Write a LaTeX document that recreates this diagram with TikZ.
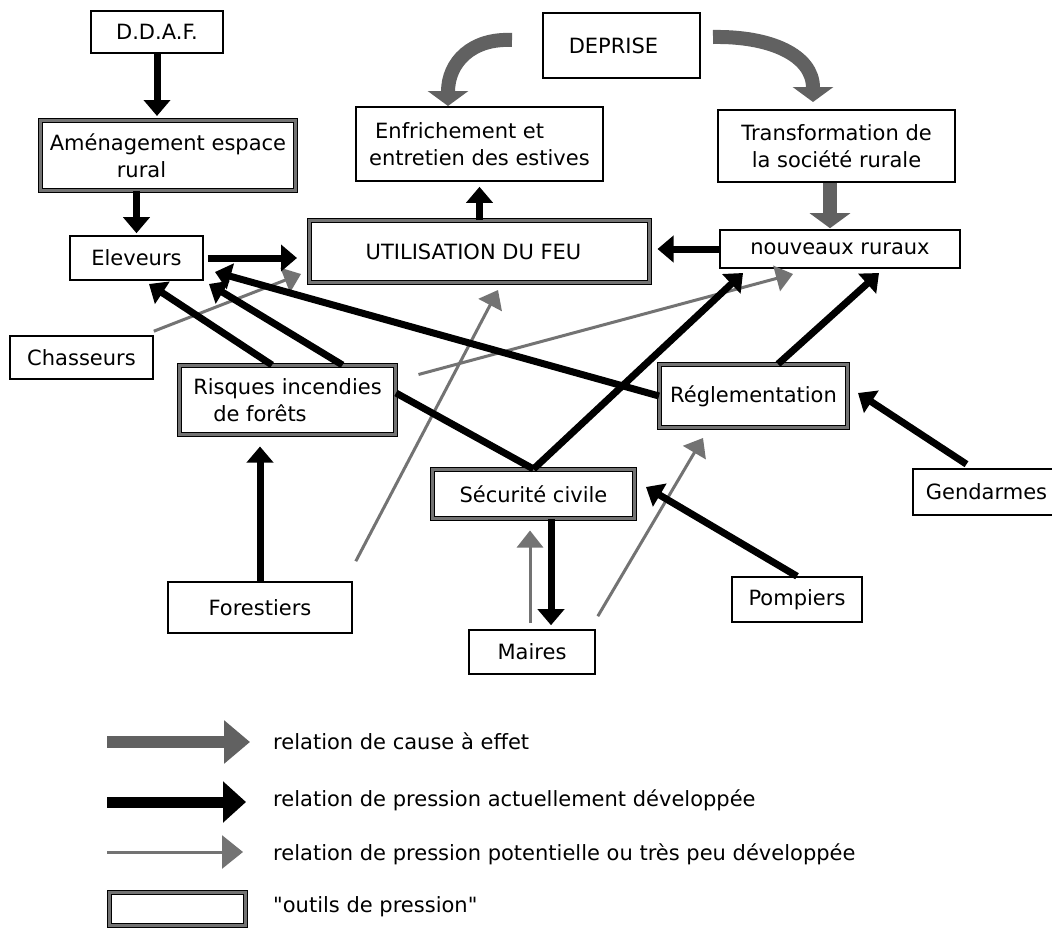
\documentclass[tikz,border=0pt]{standalone}
\usepackage{fontspec}
\setmainfont{DejaVu Sans}[Ligatures=TeXOff]
\usetikzlibrary{arrows.meta,calc}
\begin{document}
\begin{tikzpicture}[x=1pt,y=-1pt,
  every node/.style={font=\fontsize{21}{27}\selectfont, inner sep=0pt},
  box/.style={draw=black, line width=1.6pt, fill=white, align=center},
  toolbox/.style={draw=black, line width=1pt, double=black!55, double distance=3pt, fill=white, align=center},
  press/.style={draw=black, line width=7pt, -{Triangle[length=16pt,width=26pt]}},
  pot/.style={draw=black!55, line width=3pt, -{Triangle[length=17pt,width=26pt]}},
  cause/.style={draw=black!62, line width=14pt, -{Triangle[length=15pt,width=40pt]}},
  sz/.style 2 args={minimum width=#1pt, minimum height=#2pt},
  legtext/.style={anchor=base west}
]
\fill[white] (0,0) rectangle (1052,929);
\useasboundingbox (0,0) rectangle (1052,929);

% nodes
\node[box, sz={132}{42}] (ddaf) at (157,32) {D.D.A.F.};
\node[toolbox, sz={255}{70}, align=left] (amen) at (168,155.5) {Aménagement espace\\\hspace{67pt}rural};
\node[box, sz={133}{44}] (elev) at (136.5,258) {Eleveurs};
\node[toolbox, sz={340}{62}] (util) at (479.5,251.5) {UTILISATION DU FEU\hspace{12pt}};
\node[box, sz={247}{74}, align=left] (enfr) at (479.5,144) {\hspace{6pt}Enfrichement et\\entretien des estives};
\node[box, sz={157}{65}] (depr) at (621.5,45.5) {DEPRISE\hspace{16pt}};
\node[box, sz={237}{72}] (trans) at (836.5,146) {Transformation de\\la société rurale};
\node[box, sz={240}{38}] (nouv) at (840,249) {nouveaux ruraux};
\node[box, sz={143}{43}] (chas) at (81.5,357.5) {Chasseurs};
\node[toolbox, sz={216}{69}, align=left] (risk) at (287.5,400) {Risques incendies\\\hspace{20pt}de forêts};
\node[toolbox, sz={188}{63}] (regl) at (753.5,396) {Réglementation};
\node[toolbox, sz={202}{49}] (secu) at (533.5,494) {Sécurité civile};
\node[box, sz={184}{51}] (fore) at (260,607.5) {Forestiers};
\node[box, sz={126}{44}] (mair) at (532,652) {Maires};
\node[box, sz={130}{45}] (pomp) at (797,599.5) {Pompiers};
\node[box, sz={147}{46}] (gend) at (986.5,492) {Gendarmes};

% free ends
\coordinate (t6) at (149,284);
\coordinate (t7) at (209,284);
\coordinate (t8) at (215,272);
\coordinate (t10) at (743,273);
\coordinate (t11) at (879,273);
\coordinate (t12) at (858,393);
\coordinate (t13) at (646,487);
\coordinate (ga1) at (301,274);
\coordinate (gb1) at (498,290);
\coordinate (gc1) at (793,274);
\coordinate (gd1) at (703,438);
\coordinate (c1a) at (512,40);
\coordinate (c1b) at (448,106);
\coordinate (c2a) at (713,37);
\coordinate (c2b) at (813,102);

% cause arrows
\draw[cause] (c1a) .. controls (472,38) and (448,62) .. (c1b);
\draw[cause] (c2a) .. controls (770,36) and (813,55) .. (c2b);
\draw[cause, shorten >=1pt] ([xshift=-6.5pt]trans.south) -- ([xshift=-6.5pt]trans.south |- nouv.north);

% potential pressure
\draw[pot] ([yshift=4pt]chas.north east) -- (ga1);
\draw[pot] ([xshift=3pt,yshift=20pt]fore.north east) -- (gb1);
\draw[pot] ([xshift=22.5pt,yshift=-9.5pt]risk.north east) -- (gc1);
\draw[pot] ([xshift=2pt,yshift=13pt]mair.north east) -- (gd1);
\draw[pot, shorten <=6pt, shorten >=11.5pt] ([xshift=-2pt]mair.north) -- ([xshift=-2pt]mair.north |- secu.south);

% actual pressure
\draw[press, shorten >=4pt] (ddaf.south) -- (ddaf.south |- amen.north);
\draw[press, shorten >=2pt] (elev.north |- amen.south) -- (elev.north);
\draw[press, shorten <=4pt, shorten >=12pt] (elev.east) -- (elev.east -| util.west);
\draw[press, shorten >=5pt] (util.north) -- (util.north |- enfr.south);
\draw[press, shorten >=7.5pt] (nouv.west) -- (nouv.west -| util.east);
\draw[press] ([xshift=-15.5pt]risk.north) -- (t6);
\draw[press] ([xshift=55pt]risk.north) -- (t7);
\draw[press] (regl.west) -- (t8);
\draw[line width=7pt] (secu.north) -- ([yshift=7pt]risk.east);
\draw[press] (secu.north) -- (t10);
\draw[press] ([xshift=24.5pt]regl.north) -- (t11);
\draw[press] ([xshift=-20pt,yshift=4pt]gend.north) -- (t12);
\draw[press] (pomp.north) -- (t13);
\draw[press, shorten >=4pt] ([xshift=17.5pt]secu.south) -- ([xshift=17.5pt]secu.south |- mair.north);
\draw[press, shorten >=11.5pt] (fore.north) -- (fore.north |- risk.south);

% legend
\coordinate (lc0) at (107,742); \coordinate (lc1) at (250,742);
\coordinate (lt0) at (107,802); \coordinate (lt1) at (246,802);
\coordinate (lg0) at (107,852); \coordinate (lg1) at (243,852);
\draw[cause, line width=12pt, -{Triangle[length=26pt,width=42pt]}] (lc0) -- (lc1);
\draw[press, line width=11pt, -{Triangle[length=23pt,width=40pt]}] (lt0) -- (lt1);
\draw[pot, line width=3pt, -{Triangle[length=21pt,width=33pt]}] (lg0) -- (lg1);
\node[toolbox, sz={136}{33}] (lbox) at (177.5,909) {};
\node[legtext] (l1) at (273,749) {relation de cause à effet};
\node[legtext] (l2) at (273,806) {relation de pression actuellement développée};
\node[legtext] (l3) at (273,860) {relation de pression potentielle ou très peu développée};
\node[legtext] (l4) at (273,912) {"outils de pression"};
\end{tikzpicture}
\end{document}
